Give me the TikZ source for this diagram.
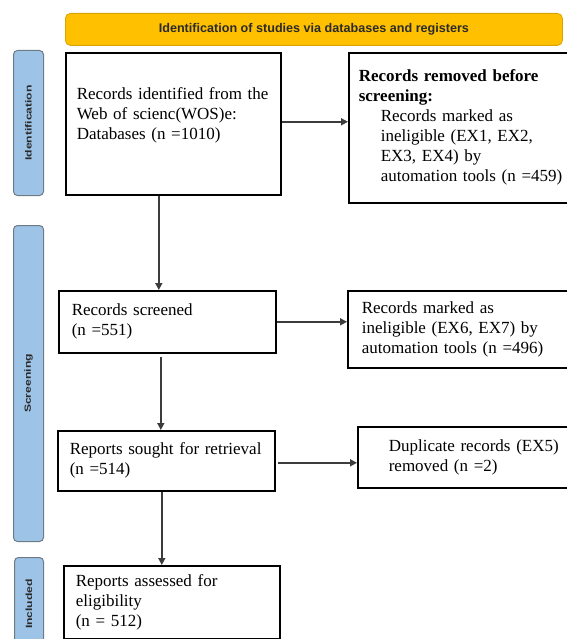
\documentclass[tikz,border=0pt]{standalone}
\usepackage{fontspec}
\setmainfont{Liberation Serif}
\setsansfont{Liberation Sans}
\usepackage{graphicx}
\usetikzlibrary{arrows.meta}

\definecolor{bannerfill}{HTML}{FFC000}
\definecolor{bannerline}{HTML}{D9A300}
\definecolor{phasefill}{HTML}{9DC3E6}
\definecolor{phaseline}{HTML}{6E7B87}
\definecolor{connline}{HTML}{3C3C3C}
\definecolor{labeltext}{HTML}{2A2A2A}

\tikzset{
  banner/.style={draw=bannerline, line width=0.8pt, fill=bannerfill, rounded corners=5pt,
    anchor=north west, inner sep=0pt,
    font=\sffamily\bfseries\fontsize{12.6}{14}\selectfont, text=labeltext},
  phase/.style={draw=phaseline, line width=1pt, fill=phasefill, rounded corners=4pt,
    anchor=north west, inner sep=0pt},
  phasetext/.style={rotate=90, font=\sffamily\bfseries\fontsize{9}{11}\selectfont, text=labeltext, inner sep=0pt},
  stage/.style={draw=black, line width=1.6pt, fill=white, align=left, anchor=north west,
    inner ysep=0pt, font=\fontsize{17}{20}\selectfont},
  conn/.style={draw=connline, line width=1.6pt, -{Triangle[length=7pt,width=7pt]}}
}

\begin{document}
\begin{tikzpicture}[x=1pt, y=-1pt]
\useasboundingbox (0,0) rectangle (566,639);

% title banner
\node[banner, minimum width=497pt, minimum height=32pt] (title) at (65,13)
  {Identification of studies via databases and registers};

% phase bars on the left
\node[phase, minimum width=30pt, minimum height=145pt] (ph1) at (13,50) {};
\node[phasetext] (ph1t) at (ph1.center) {\scalebox{1.35}[1]{Identification}};
\node[phase, minimum width=30pt, minimum height=316pt] (ph2) at (13,225) {};
\node[phasetext] (ph2t) at (ph2.center) {\scalebox{1.35}[1]{Screening}};
\node[phase, minimum width=29pt, minimum height=93pt] (ph3) at (14,557) {};
\node[phasetext] (ph3t) at (ph3.center) {\scalebox{1.35}[1]{Included}};

% identification
\node[stage, inner xsep=11pt, text width=193pt, minimum height=142pt,
      execute at end node={\par\vspace{16pt}}] (b1) at (65,52)
  {Records identified from the\\Web of scienc(WOS)e:\\Databases (n =1010)};
\node[stage, inner xsep=10pt, text width=262pt, minimum height=150pt] (b2) at (348,52)
  {\textbf{Records removed before}\\\textbf{screening:}\\
   \hspace*{22pt}Records marked as\\
   \hspace*{22pt}ineligible (EX1, EX2,\\
   \hspace*{22pt}EX3, EX4) by\\
   \hspace*{22pt}automation tools (n =459)};

% screening
\node[stage, inner xsep=13pt, text width=191pt, minimum height=62pt] (b3) at (58,290)
  {Records screened\\(n =551)};
\node[stage, inner xsep=14pt, text width=255pt, minimum height=77pt] (b4) at (347,290)
  {Records marked as\\ineligible (EX6, EX7) by\\automation tools (n =496)};
\node[stage, inner xsep=12pt, text width=193pt, minimum height=60pt] (b5) at (57,430)
  {Reports sought for retrieval\\(n =514)};
\node[stage, inner xsep=31pt, text width=211pt, minimum height=61pt] (b6) at (357,426)
  {Duplicate records (EX5)\\removed (n =2)};

% included
\node[stage, inner xsep=12pt, text width=192pt, minimum height=73pt] (b7) at (63,565)
  {Reports assessed for\\eligibility\\(n = 512)};

% connectors
\draw[conn] ([yshift=2pt]b1.east) -- ([yshift=2pt]b1.east -| b2.west);
\draw[conn] ([xshift=-14.5pt]b1.south) -- ([xshift=-14.5pt]b1.south |- b3.north);
\draw[conn] (b3.east) -- (b3.east -| b4.west);
\draw[conn, shorten <=3pt] ([xshift=-6.5pt]b3.south) -- ([xshift=-6.5pt]b3.south |- b5.north);
\draw[conn, shorten <=2pt] ([yshift=-2pt]b5.east) -- ([yshift=-2pt]b5.east -| b6.west);
\draw[conn] ([xshift=-4.5pt]b5.south) -- ([xshift=-4.5pt]b5.south |- b7.north);
\end{tikzpicture}
\end{document}
